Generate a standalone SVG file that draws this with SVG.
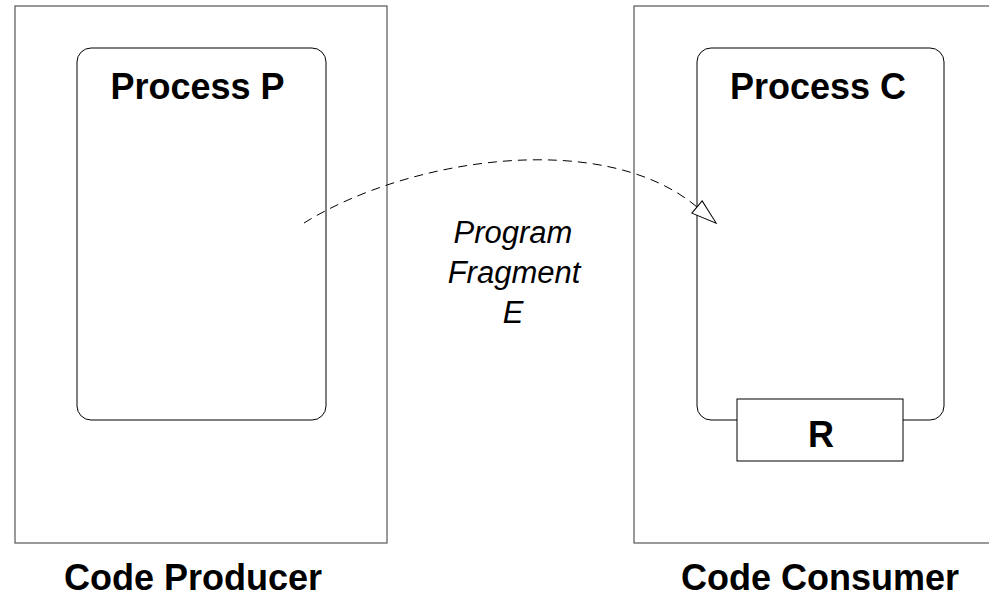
<svg xmlns="http://www.w3.org/2000/svg" width="989" height="599" viewBox="0 0 989 599">
<style>
.outer{fill:#fff;stroke:#555;stroke-width:1.2}
.inner{fill:#fff;stroke:#000;stroke-width:1}
.bold{font-family:"Liberation Sans",Arial,sans-serif;font-weight:bold;font-size:36px;fill:#000;text-anchor:middle}
.ital{font-family:"Liberation Sans",Arial,sans-serif;font-style:italic;font-size:31px;fill:#000;text-anchor:middle}
.conn{fill:none;stroke:#000;stroke-width:1;stroke-dasharray:9 6}
</style>
<defs>
<marker id="open" markerUnits="userSpaceOnUse" markerWidth="30" markerHeight="20" refX="0" refY="10" viewBox="-2 0 30 20" orient="auto" overflow="visible">
<path d="M0,2 L25,10 L0,18 Z" fill="#fff" stroke="#000" stroke-width="1" stroke-dasharray="none"/>
</marker>
</defs>
<rect width="989" height="599" fill="#fff"/>
<g id="producer">
<rect class="outer" x="15" y="6" width="372" height="537"/>
<text class="bold" x="193" y="590">Code Producer</text>
</g>
<g id="consumer">
<rect class="outer" x="634" y="6" width="370" height="537"/>
<text class="bold" x="820" y="590">Code Consumer</text>
</g>
<g id="processP">
<rect class="inner" x="77" y="48" width="249" height="372" rx="14"/>
<text class="bold" x="197.5" y="99">Process P</text>
</g>
<g id="processC">
<rect class="inner" x="697" y="48" width="247" height="372" rx="14"/>
<text class="bold" x="818" y="99">Process C</text>
</g>
<g id="R">
<rect class="inner" x="737" y="399" width="166" height="62"/>
<text class="bold" x="821" y="447">R</text>
</g>
<g id="label">
<text class="ital" x="513" y="243">Program</text>
<text class="ital" x="514" y="283">Fragment</text>
<text class="ital" x="513" y="323">E</text>
</g>
<g id="connectors">
<path class="conn" d="M304,223 C408.5,158 603.5,128.3 697,207" marker-end="url(#open)"/>
</g>
</svg>
